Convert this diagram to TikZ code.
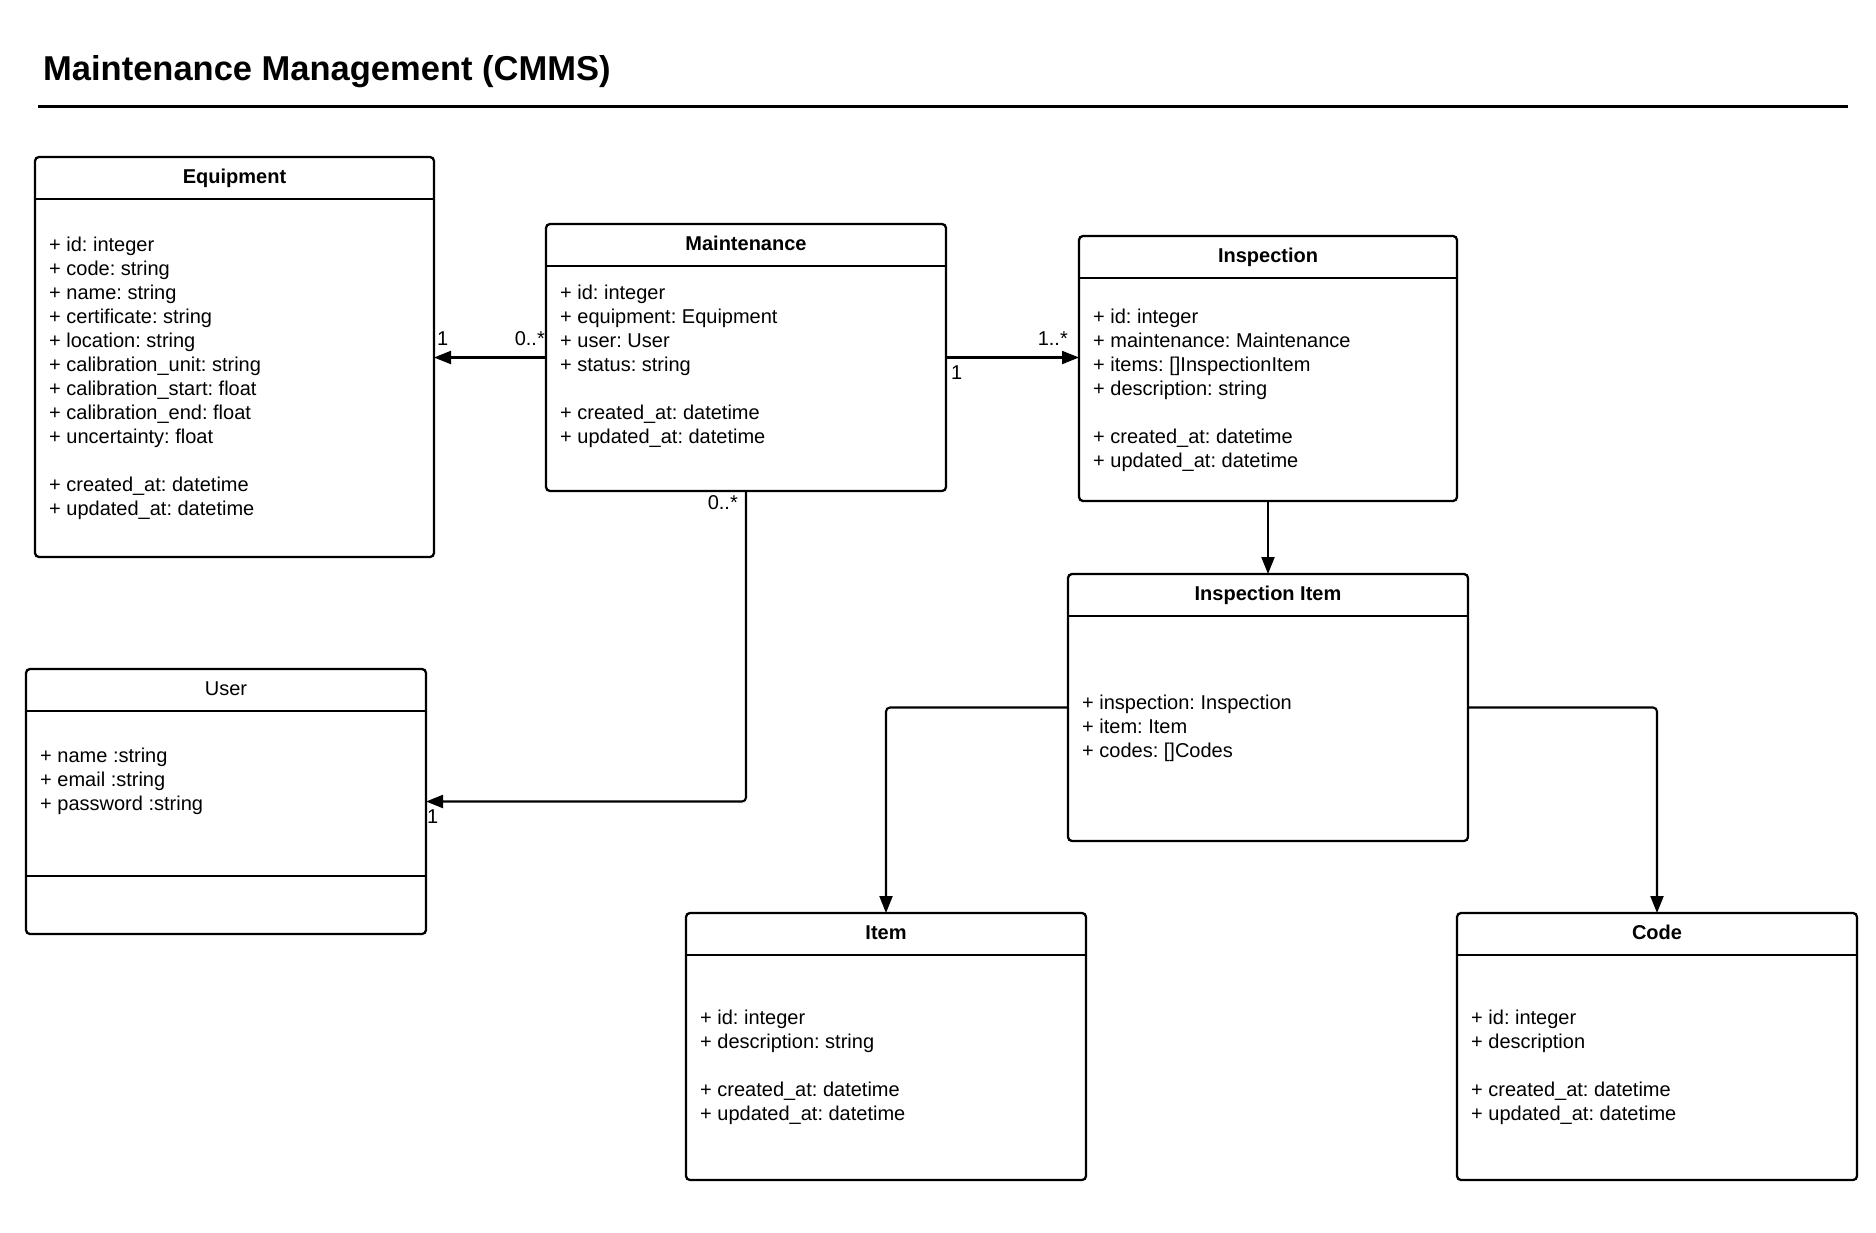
\documentclass[tikz,border=0pt]{standalone}
\usepackage{fontspec}
\setmainfont{Liberation Sans}
\usetikzlibrary{arrows.meta}
\frenchspacing
\newcommand\attrfont{\fontsize{20pt}{24pt}\selectfont}
\newcommand\ttlfont{\fontsize{34.5pt}{40pt}\selectfont\bfseries}
\begin{document}
\begin{tikzpicture}[x=1pt,y=-1pt,
  classbox/.style={draw, rectangle, line width=2.3pt, rounded corners=4pt, inner sep=0pt, outer sep=0pt},
  sepline/.style={line width=2.3pt},
  hdr/.style={anchor=base, inner sep=0pt, font=\attrfont\bfseries},
  hdrplain/.style={anchor=base, inner sep=0pt, font=\attrfont},
  attr/.style={anchor=base west, inner sep=0pt, font=\attrfont},
  multw/.style={anchor=base west, inner sep=0pt, font=\attrfont},
  multe/.style={anchor=base east, inner sep=0pt, font=\attrfont},
  conn/.style={line width=2.1pt, rounded corners=4pt, -{Triangle[length=17pt,width=13pt]}}
]
\useasboundingbox (0,0) rectangle (1876,1232);

% title
\node[anchor=base west, inner sep=0pt, font=\ttlfont] (title) at (43,80) {Maintenance Management (CMMS)};
\coordinate (ruleL) at (38,106.5);
\coordinate (ruleR) at (1848,106.5);
\draw[line width=2.3pt] (ruleL) -- (ruleR);

% boxes
\node[classbox, minimum width=399pt, minimum height=400pt] (equip) at (234.5,357) {};
\node[classbox, minimum width=400pt, minimum height=267pt] (maint) at (746,357.5) {};
\node[classbox, minimum width=378pt, minimum height=265pt] (insp) at (1268,368.5) {};
\node[classbox, minimum width=400pt, minimum height=267pt] (ii) at (1268,707.5) {};
\node[classbox, minimum width=400pt, minimum height=265pt] (user) at (226,801.5) {};
\node[classbox, minimum width=400pt, minimum height=267pt] (item) at (886,1046.5) {};
\node[classbox, minimum width=400pt, minimum height=267pt] (code) at (1657,1046.5) {};

% header separators
\foreach \b in {equip,maint,insp,ii,user,item,code}{
  \draw[sepline] ([yshift=-42pt]\b.north west) -- ([yshift=-42pt]\b.north east);
}
\draw[sepline] ([yshift=-207pt]user.north west) -- ([yshift=-207pt]user.north east);

% headers
\node[hdr] (equip-t) at (234.5,183) {Equipment};
\node[hdr] (maint-t) at (746,250) {Maintenance};
\node[hdr] (insp-t) at (1268,262) {Inspection};
\node[hdr] (ii-t) at (1268,600) {Inspection Item};
\node[hdrplain] (user-t) at (226,695) {User};
\node[hdr] (item-t) at (886,939) {Item};
\node[hdr] (code-t) at (1657,939) {Code};

% attributes
\foreach \k/\t in {0/{+ id: integer},1/{+ code: string},2/{+ name: string},3/{+ certificate: string},4/{+ location: string},5/{+ calibration\_unit: string},6/{+ calibration\_start: float},7/{+ calibration\_end: float},8/{+ uncertainty: float},10/{+ created\_at: datetime},11/{+ updated\_at: datetime}}
  \node[attr] (equip-a\k) at (49,251+24*\k) {\t};

\foreach \k/\t in {0/{+ id: integer},1/{+ equipment: Equipment},2/{+ user: User},3/{+ status: string},5/{+ created\_at: datetime},6/{+ updated\_at: datetime}}
  \node[attr] (maint-a\k) at (560,299+24*\k) {\t};

\foreach \k/\t in {0/{+ id: integer},1/{+ maintenance: Maintenance},2/{+ items: []InspectionItem},3/{+ description: string},5/{+ created\_at: datetime},6/{+ updated\_at: datetime}}
  \node[attr] (insp-a\k) at (1093,323+24*\k) {\t};

\foreach \k/\t in {0/{+ inspection: Inspection},1/{+ item: Item},2/{+ codes: []Codes}}
  \node[attr] (ii-a\k) at (1082,709+24*\k) {\t};

\foreach \k/\t in {0/{+ name :string},1/{+ email :string},2/{+ password :string}}
  \node[attr] (user-a\k) at (40,762+24*\k) {\t};

\foreach \k/\t in {0/{+ id: integer},1/{+ description: string},3/{+ created\_at: datetime},4/{+ updated\_at: datetime}}
  \node[attr] (item-a\k) at (700,1024+24*\k) {\t};

\foreach \k/\t in {0/{+ id: integer},1/{+ description},3/{+ created\_at: datetime},4/{+ updated\_at: datetime}}
  \node[attr] (code-a\k) at (1471,1024+24*\k) {\t};

% connectors
\draw[conn] (maint.west) -- (maint.west -| equip.east);
\draw[conn] (maint.east) -- (maint.east -| insp.west);
\draw[conn] (maint.south) |- (user.east);
\draw[conn] (insp.south) -- (ii.north);
\draw[conn] (ii.west) -| (item.north);
\draw[conn] (ii.east) -| (code.north);

% multiplicities
\node[multw] (m1) at (437,345) {1};
\node[multe] (m2) at (545,345) {0..*};
\node[multe] (m3) at (1068,345) {1..*};
\node[multw] (m4) at (951,379) {1};
\node[multe] (m5) at (738,509) {0..*};
\node[multw] (m6) at (427,823) {1};
\end{tikzpicture}
\end{document}
